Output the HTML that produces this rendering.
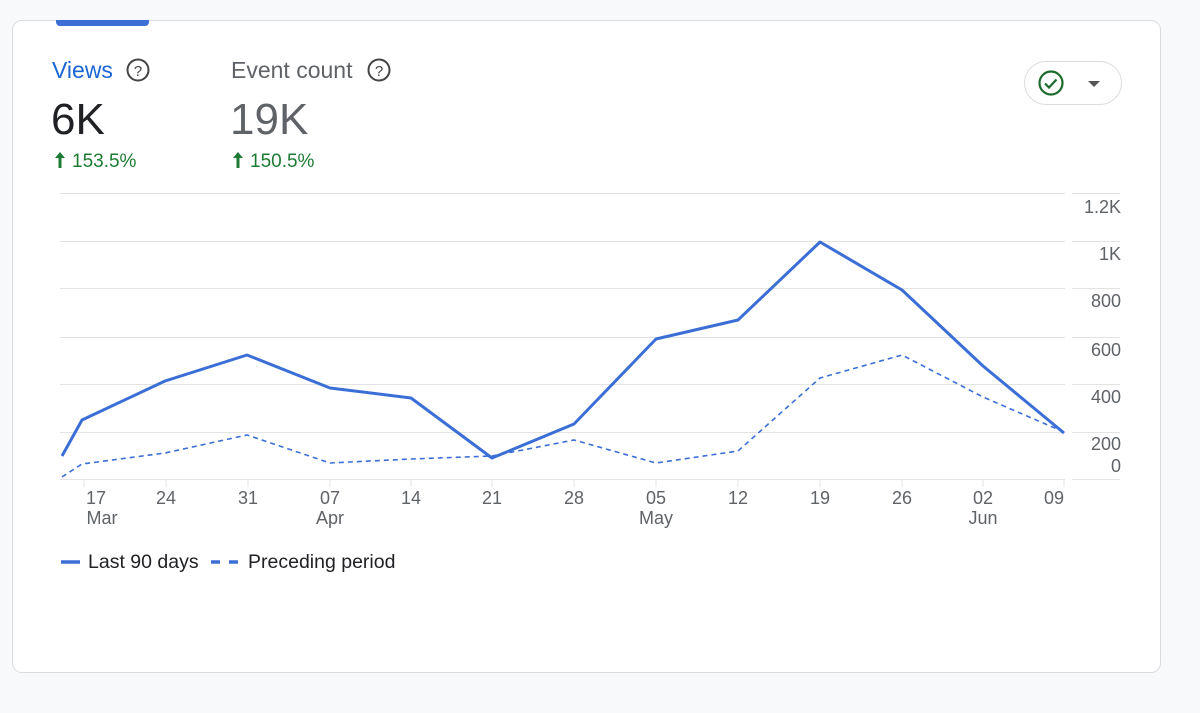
<!DOCTYPE html>
<html><head><meta charset="utf-8"><style>
body{margin:0;width:1200px;height:713px;background:#f8f9fa;font-family:"Liberation Sans",sans-serif;position:relative;overflow:hidden}
.card{position:absolute;left:12px;top:20px;width:1149px;height:653px;background:#fff;border:1px solid #dadce0;border-radius:10px;box-sizing:border-box}
.t{position:absolute;white-space:nowrap;line-height:1}
</style></head><body>
<div class="card"></div>
<div style="position:absolute;left:56px;top:20px;width:93px;height:6px;background:#3b6fd6;border-radius:0 0 4px 4px"></div>
<div class="t" style="left:52px;top:59px;font-size:23px;color:#1a66d2">Views</div>
<div class="t" style="left:231px;top:59px;font-size:23px;color:#5f6368">Event count</div>
<svg style="position:absolute;left:0;top:0" width="1200" height="713">
<circle cx="138" cy="70" r="10.5" fill="none" stroke="#444" stroke-width="2"/>
<text x="138" y="76" font-size="15" text-anchor="middle" fill="#444" font-family="Liberation Sans">?</text>
<circle cx="379" cy="70" r="10.5" fill="none" stroke="#444" stroke-width="2"/>
<text x="379" y="76" font-size="15" text-anchor="middle" fill="#444" font-family="Liberation Sans">?</text>
<rect x="1024.5" y="61.5" width="97" height="43" rx="21.5" fill="#fff" stroke="#dadce0"/>
<circle cx="1051" cy="83" r="11.5" fill="none" stroke="#1e6b2e" stroke-width="2.2"/>
<path d="M1045 83.5l4 4 7.5-8" fill="none" stroke="#1e6b2e" stroke-width="2.2"/>
<path d="M1088 81h12l-6 6z" fill="#555"/>
<g stroke="#e3e3e3" stroke-width="1">
<path d="M60 193.5H1065M60 241.5H1065M60 288.5H1065M60 337.5H1065M60 384.5H1065M60 432.5H1065"/>
<path d="M1072 193.5H1120M1072 241.5H1120M1072 288.5H1120M1072 337.5H1120M1072 384.5H1120M1072 432.5H1120M1072 479.5H1120"/>
<path d="M60 479.5H1065"/>
<path d="M84 479v8M166 479v8M248 479v8M330 479v8M411 479v8M492 479v8M574 479v8M656 479v8M738 479v8M820 479v8M902 479v8M983 479v8M1064 479v8"/>
</g>
<g font-size="18" fill="#5f6368" font-family="Liberation Sans" text-anchor="end">
<text x="1121" y="213">1.2K</text><text x="1121" y="260">1K</text><text x="1121" y="307">800</text><text x="1121" y="356">600</text><text x="1121" y="403">400</text><text x="1121" y="450">200</text><text x="1121" y="472">0</text>
</g>
<g font-size="18" fill="#5f6368" font-family="Liberation Sans" text-anchor="middle">
<text x="96" y="504">17</text><text x="102" y="524">Mar</text>
<text x="166" y="504">24</text><text x="248" y="504">31</text><text x="330" y="504">07</text><text x="330" y="524">Apr</text>
<text x="411" y="504">14</text><text x="492" y="504">21</text><text x="574" y="504">28</text><text x="656" y="504">05</text><text x="656" y="524">May</text>
<text x="738" y="504">12</text><text x="820" y="504">19</text><text x="902" y="504">26</text><text x="983" y="504">02</text><text x="983" y="524">Jun</text><text x="1054" y="504">09</text>
</g>
<polyline fill="none" stroke="#3b6fd6" stroke-width="1.6" stroke-dasharray="5,4" points="62,477 82,464 165,453 247,435 330,463 411,459 492,456 574,440 656,463 738,451 820,378 902,355 983,397 1064,432"/>
<polyline fill="none" stroke="#3b6fd6" stroke-width="3" stroke-linejoin="round" points="62,456 82,420 165,381 247,355 330,388 411,398 492,458 574,424 656,339 738,320 820,242 902,290 983,366 1064,433"/>
<path d="M61 562H80" stroke="#3b6fd6" stroke-width="3.5"/>
<path d="M211 562H220M229 562H238" stroke="#3b6fd6" stroke-width="3.5"/>
<text x="88" y="568" font-size="19.5" fill="#202124" font-family="Liberation Sans">Last 90 days</text>
<text x="248" y="568" font-size="19.5" fill="#202124" font-family="Liberation Sans">Preceding period</text>
<path d="M60 152l-5 6h3.5v10h3v-10h3.5z" fill="#1e7b34"/>
<path d="M238 152l-5 6h3.5v10h3v-10h3.5z" fill="#1e7b34"/>
</svg>
<div class="t" style="left:51px;top:98px;font-size:44px;color:#202124">6K</div>
<div class="t" style="left:230px;top:98px;font-size:44px;color:#5f6368">19K</div>
<div class="t" style="left:72px;top:152px;font-size:19px;color:#1e7b34">153.5%</div>
<div class="t" style="left:250px;top:152px;font-size:19px;color:#1e7b34">150.5%</div>
</body></html>
